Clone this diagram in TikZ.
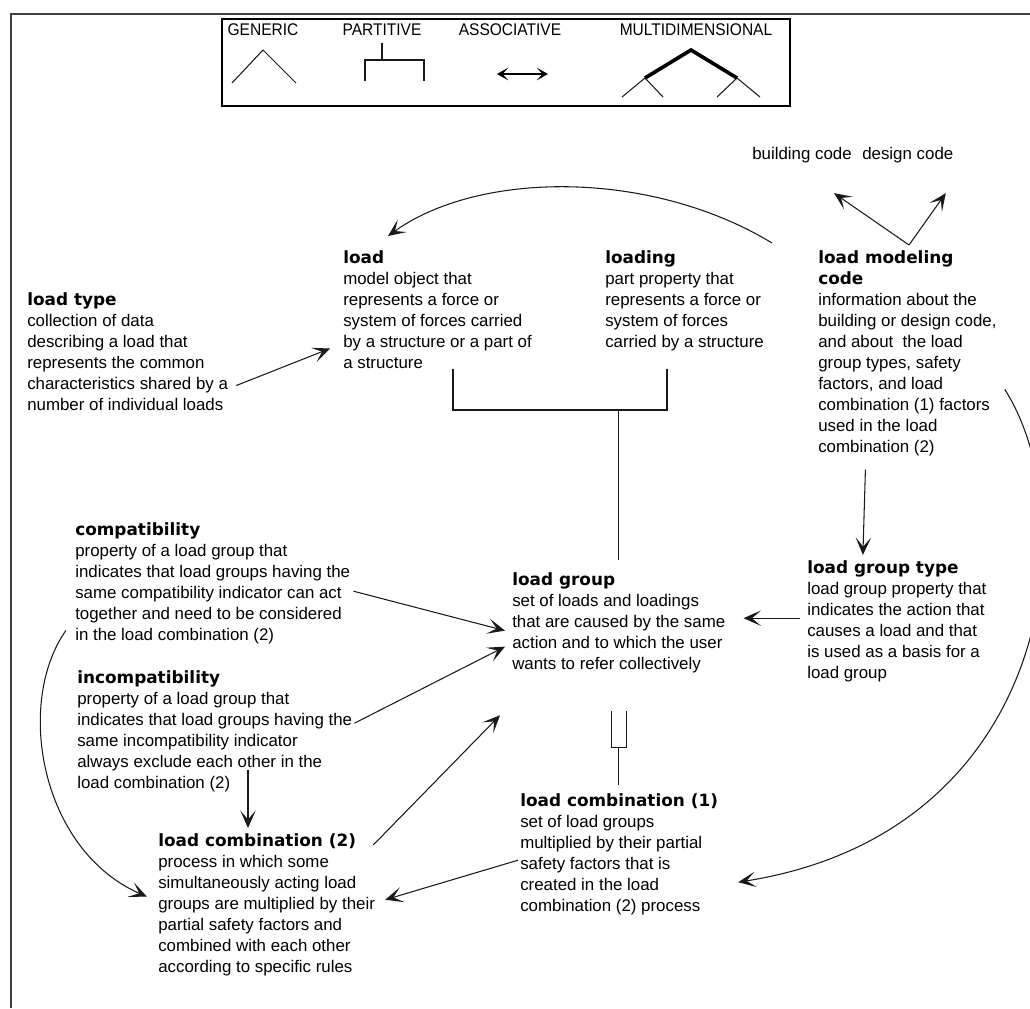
\documentclass[tikz,border=0pt]{standalone}
\usepackage{fontspec}
\setmainfont{Liberation Sans}
\newfontfamily\headfont{DejaVu Sans}
\newfontfamily\legfont{Liberation Sans}[FakeStretch=0.92]
\usetikzlibrary{arrows.meta}
\newcommand{\hd}[1]{{\headfont\bfseries #1}}

\begin{document}
\begin{tikzpicture}[x=0.025cm, y=-0.025cm,
        term/.style={anchor=north west, align=left, inner sep=0pt,
            font=\fontsize{12}{15}\selectfont},
        legtext/.style={inner sep=0pt, font=\legfont\fontsize{12}{14}\selectfont},
        link/.style={line width=0.75pt, black!90},
        arr/.style={link, -{Stealth[length=12.5pt, width=11pt, inset=6.5pt]}}]
    \useasboundingbox (0,0) rectangle (1030,1008);
    \draw[line width=1.6pt, black!75] (11,1008) -- (11,14) -- (1030,14);
    %% legend
    \draw[line width=1.2pt] (222,19) rectangle (790,106);
    \draw (263,30) node (lgen) [legtext] {GENERIC};
    \draw (382,30) node (lpart) [legtext] {PARTITIVE};
    \draw (510,30) node (lassoc) [legtext] {ASSOCIATIVE};
    \draw (696,30) node (lmulti) [legtext] {MULTIDIMENSIONAL};
    \draw[link] (232,83) -- (263,50) -- (296,83);
    \draw[link] (382,43) -- (382,60) (365,81) -- (365,60) -- (424,60) -- (424,81);
    \draw[line width=1.4pt, {Stealth[length=8pt, width=9pt, inset=4pt]}-{Stealth[length=8pt, width=9pt, inset=4pt]}]
        (497,74) -- (548,74);
    \draw[line width=2.6pt] (645,78) -- (691,50) -- (737,78);
    \draw[link] (622,97) -- (645,78) -- (663,97) (717,97) -- (737,78) -- (760,97);
    %% terms
    \draw (752,155) node (bcode) [term, anchor=west] {building code};
    \draw (862,155) node (dcode) [term, anchor=west] {design code};
    \draw (27,292) node (ltype) [term] {\hd{load type}\\collection of data\\describing a load that\\represents the common\\characteristics shared by a\\number of individual loads};
    \draw (343,250) node (load) [term] {\hd{load}\\model object that\\represents a force or\\system of forces carried\\by a structure or a part of\\a structure};
    \draw (605,250) node (loading) [term] {\hd{loading}\\part property that\\represents a force or\\system of forces\\carried by a structure};
    \draw (818,250) node (lmc) [term] {\hd{load modeling}\\\hd{code}\\information about the\\building or design code,\\and about\ \ the load\\group types, safety\\factors, and load\\combination (1) factors\\used in the load\\combination (2)};
    \draw (75,522) node (compat) [term] {\hd{compatibility}\\property of a load group that\\indicates that load groups having the\\same compatibility indicator can act\\together and need to be considered\\in the load combination (2)};
    \draw (77,670) node (incompat) [term] {\hd{incompatibility}\\property of a load group that\\indicates that load groups having the\\same incompatibility indicator\\always exclude each other in the\\load combination (2)};
    \draw (512,572) node (lg) [term] {\hd{load group}\\set of loads and loadings\\that are caused by the same\\action and to which the user\\wants to refer collectively};
    \draw (807,560) node (lgt) [term] {\hd{load group type}\\load group property that\\indicates the action that\\causes a load and that\\is used as a basis for a\\load group};
    \draw (520,793) node (lc1) [term] {\hd{load combination (1)}\\set of load groups\\multiplied by their partial\\safety factors that is\\created in the load\\combination (2) process};
    \draw (158,833) node (lc2) [term] {\hd{load combination (2)}\\process in which some\\simultaneously acting load\\groups are multiplied by their\\partial safety factors and\\combined with each other\\according to specific rules};
    %% connectors
    \coordinate (vtx) at ([shift={(91,-5)}]lmc.north west);
    \draw[arr] (vtx) -- ([shift={(-18,30)}]bcode.south east);
    \draw[arr] (vtx) -- ([shift={(38,30)}]dcode.south);
    \draw[arr] ([shift={(-46,-7)}]lmc.north west) .. controls +(-120,-73) and +(92,-66) .. ([shift={(45,-14)}]load.north west);
    \draw[arr] ([shift={(8,34)}]ltype.east) -- ([shift={(-13,39)}]load.west);
    \coordinate (brL) at (453,410);
    \coordinate (brR) at (667,410);
    \draw[link] (load.south -| brL) -- (brL) -- (brR) -- (brR |- load.south);
    \draw[link] (brL -| lg.north) -- ([shift={(0,-12)}]lg.north);
    \draw[arr] ([shift={(-42,13)}]lmc.south) -- ([shift={(-34,-5)}]lgt.north);
    \draw[arr] ([shift={(-7,-3)}]lgt.west) -- ([shift={(18,-3)}]lgt.west -| lg.east);
    \draw[arr] ([shift={(3,8)}]compat.east) -- ([shift={(-7,8)}]lg.west);
    \draw[arr] ([shift={(2,-8)}]incompat.east) -- ([shift={(-7,24)}]lg.west);
    \draw[arr] ([shift={(-2,12)}]lc2.north east) -- ([shift={(-12,42)}]lg.south west);
    \draw[arr] ([shift={(171,-22)}]incompat.south west) -- ([shift={(90,-5)}]lc2.north west);
    \draw[arr] ([shift={(-2,6)}]lc1.west) -- ([shift={(10,-5)}]lc2.east);
    \draw[arr] ([shift={(8,36)}]lmc.east) .. controls +(82,130) and +(315,-50) .. ([shift={(20,28)}]lc1.east);
    \draw[arr] ([shift={(-9,-14)}]compat.south west) .. controls +(-51,72) and +(-107,-47) .. ([shift={(-11,-8)}]lc2.west);
    %% multidimensional link
    \draw[link] ([shift={(-7,38)}]lg.south) -- ++(0,36) -- ++(15,0) -- ++(0,-36);
    \draw[link] ([shift={(0,74)}]lg.south) -- ([shift={(0,-8)}]lc1.north -| lg.south);
\end{tikzpicture}
\end{document}
